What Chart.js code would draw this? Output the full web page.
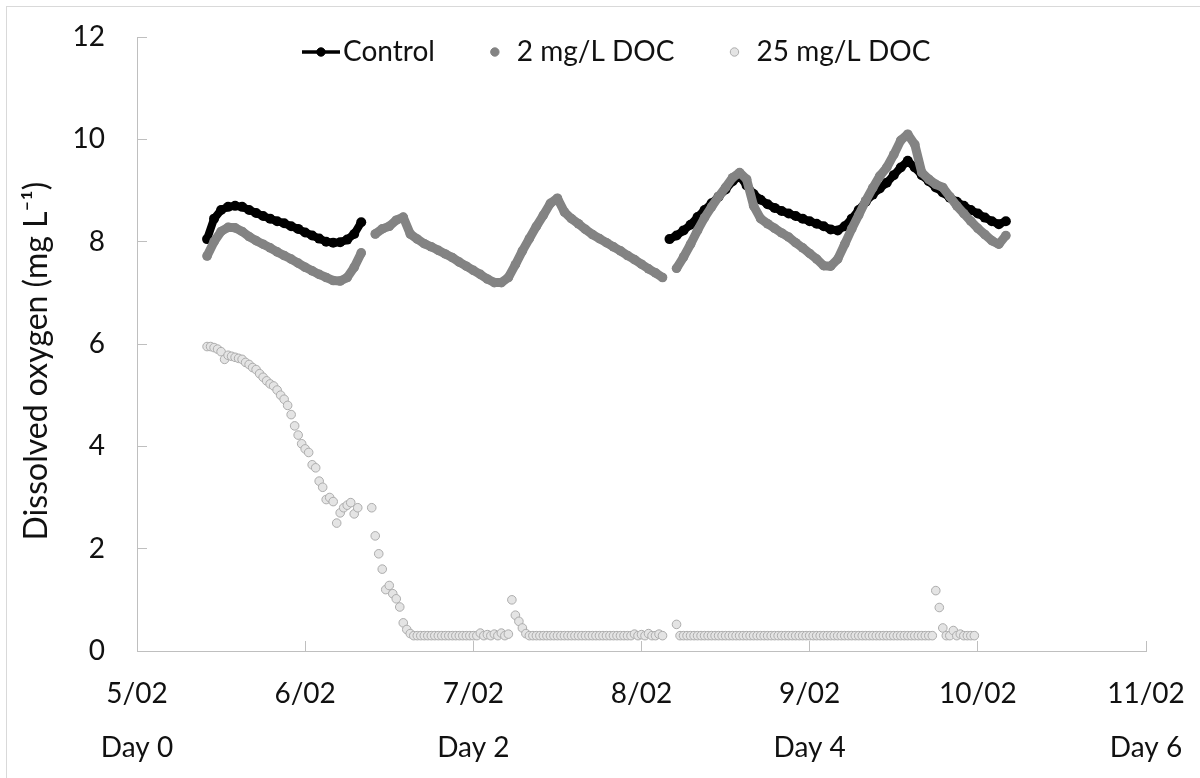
<!DOCTYPE html>
<html>
<head>
<meta charset="utf-8">
<script src="https://cdn.jsdelivr.net/npm/chart.js@4.4.1/dist/chart.umd.min.js"></script>
<style>
  html, body { margin: 0; padding: 0; background: #fff; }
</style>
</head>
<body>
<canvas id="doChart" width="1200" height="778"></canvas>
<script>
// x axis is hours since 5/02 00:00
const dateLabels = ['5/02', '6/02', '7/02', '8/02', '9/02', '10/02', '11/02'];
const dayLabels = ['Day 0', 'Day 2', 'Day 4', 'Day 6'];
const yTitle = 'Dissolved oxygen (mg L⁻¹)';

// Control, hourly logger readings (mg/L)
const controlStart = [10, 76];
const controlSeg1 = [8.05, 8.45, 8.62, 8.68, 8.70, 8.68, 8.62, 8.56, 8.50, 8.45, 8.40, 8.36,
  8.30, 8.25, 8.18, 8.12, 8.06, 8.00, 7.98, 7.99, 8.04, 8.15, 8.38];
const controlSeg2 = [8.05, 8.12, 8.22, 8.33, 8.48, 8.62, 8.75, 8.88, 9.02, 9.18, 9.28, 9.10,
  8.93, 8.82, 8.73, 8.66, 8.60, 8.55, 8.50, 8.45, 8.40, 8.35, 8.30, 8.24, 8.22, 8.30,
  8.45, 8.62, 8.78, 8.92, 9.04, 9.15, 9.30, 9.45, 9.58, 9.45, 9.30, 9.18, 9.06, 8.96,
  8.86, 8.78, 8.70, 8.62, 8.55, 8.47, 8.40, 8.34, 8.40];

// 2 mg/L DOC, hourly
const doc2Start = [10, 34, 77];
const doc2Seg1 = [7.72, 8.0, 8.2, 8.28, 8.27, 8.2, 8.1, 8.02, 7.95, 7.88, 7.8, 7.73, 7.66,
  7.58, 7.5, 7.43, 7.36, 7.3, 7.24, 7.23, 7.3, 7.5, 7.78];
const doc2Seg2 = [8.15, 8.25, 8.3, 8.42, 8.48, 8.15, 8.05, 7.96, 7.9, 7.83, 7.76, 7.69, 7.6,
  7.52, 7.44, 7.36, 7.27, 7.2, 7.2, 7.3, 7.55, 7.82, 8.06, 8.3, 8.52, 8.75, 8.85, 8.58,
  8.45, 8.35, 8.24, 8.14, 8.06, 7.98, 7.9, 7.82, 7.73, 7.65, 7.56, 7.47, 7.39, 7.3];
const doc2Seg3 = [7.48, 7.7, 7.95, 8.22, 8.47, 8.68, 8.88, 9.06, 9.25, 9.35, 9.22, 8.7, 8.45,
  8.35, 8.26, 8.17, 8.09, 7.98, 7.88, 7.77, 7.66, 7.53, 7.52, 7.66, 7.95, 8.25, 8.52, 8.8,
  9.05, 9.28, 9.45, 9.7, 9.98, 10.1, 9.9, 9.35, 9.22, 9.12, 9.06, 8.88, 8.7, 8.55, 8.4,
  8.26, 8.14, 8.02, 7.95, 8.12];

// 25 mg/L DOC, half-hourly
const doc25Start = [10, 33.5, 77];
const doc25Seg1 = [5.95, 5.95, 5.93, 5.9, 5.85, 5.7, 5.78, 5.76, 5.74, 5.72, 5.7, 5.64, 5.6,
  5.54, 5.5, 5.42, 5.35, 5.28, 5.22, 5.18, 5.1, 5.0, 4.92, 4.8, 4.62, 4.4, 4.22, 4.05,
  3.95, 3.88, 3.64, 3.58, 3.32, 3.2, 2.96, 3.0, 2.92, 2.5, 2.7, 2.8, 2.85, 2.9, 2.68, 2.8];
const doc25Seg2 = [2.8, 2.25, 1.9, 1.6, 1.2, 1.28, 1.12, 1.02, 0.86, 0.55, 0.42, 0.34, 0.3,
  0.3, 0.3, 0.3, 0.3, 0.3, 0.3, 0.3, 0.3, 0.3, 0.3, 0.3, 0.3, 0.3, 0.3, 0.3, 0.3, 0.3, 0.3,
  0.35, 0.3, 0.32, 0.3, 0.33, 0.3, 0.35, 0.3,
  0.33, 1.0, 0.7, 0.58, 0.45, 0.34,
  0.3, 0.3, 0.3, 0.3, 0.3, 0.3, 0.3, 0.3, 0.3, 0.3, 0.3, 0.3, 0.3, 0.3, 0.3,
  0.3, 0.3, 0.3, 0.3, 0.3, 0.3, 0.3, 0.3, 0.3, 0.3, 0.3, 0.3, 0.3, 0.3, 0.3,
  0.33, 0.3, 0.32, 0.3, 0.34, 0.3, 0.3, 0.33, 0.3];
const doc25Seg3 = [0.52,
  0.3, 0.3, 0.3, 0.3, 0.3, 0.3, 0.3, 0.3, 0.3, 0.3, 0.3, 0.3, 0.3, 0.3, 0.3, 0.3, 0.3, 0.3,
  0.3, 0.3, 0.3, 0.3, 0.3, 0.3, 0.3, 0.3, 0.3, 0.3, 0.3, 0.3, 0.3, 0.3, 0.3, 0.3, 0.3, 0.3,
  0.3, 0.3, 0.3, 0.3, 0.3, 0.3, 0.3, 0.3, 0.3, 0.3, 0.3, 0.3, 0.3, 0.3, 0.3, 0.3, 0.3, 0.3,
  0.3, 0.3, 0.3, 0.3, 0.3, 0.3, 0.3, 0.3, 0.3, 0.3, 0.3, 0.3, 0.3, 0.3, 0.3, 0.3, 0.3, 0.3,
  0.3,
  1.18, 0.85, 0.45, 0.3, 0.3, 0.4, 0.3, 0.33, 0.3, 0.3, 0.3, 0.3];

const FONT = 'Lato';
const TEXT = '#111';
const AXIS = '#bfbfbf';

// turn each logging run into {x, y} points, with a null between runs so the trace breaks
function buildSeries(starts, step, segs) {
  const out = [];
  segs.forEach((vals, s) => {
    vals.forEach((v, i) => out.push({ x: starts[s] + i * step, y: v }));
    if (s < segs.length - 1) out.push({ x: starts[s] + vals.length * step, y: null });
  });
  return out;
}

const background = {
  id: 'background',
  beforeDraw(chart) {
    const ctx = chart.ctx;
    ctx.save();
    ctx.fillStyle = '#fff';
    ctx.fillRect(0, 0, chart.width, chart.height);
    ctx.strokeStyle = '#d9d9d9';
    ctx.lineWidth = 1;
    ctx.strokeRect(6.5, 6.5, chart.width + 20, chart.height + 20);
    ctx.restore();
  }
};

// legend sits inside the plot along the top; axis title drawn alongside
const insideLegend = {
  id: 'insideLegend',
  afterDraw(chart) {
    const ctx = chart.ctx;
    const y = 52;
    let x = 302;
    ctx.save();
    ctx.font = '28px ' + FONT;
    ctx.textBaseline = 'middle';
    chart.data.datasets.forEach(ds => {
      const cx = x + 19;
      if (ds.legendLine) {
        ctx.strokeStyle = ds.borderColor;
        ctx.lineWidth = 3.5;
        ctx.beginPath();
        ctx.moveTo(x, y);
        ctx.lineTo(x + 38, y);
        ctx.stroke();
      }
      ctx.beginPath();
      ctx.arc(cx, y, 4.2, 0, Math.PI * 2);
      ctx.fillStyle = ds.pointBackgroundColor;
      ctx.fill();
      ctx.lineWidth = 1;
      ctx.strokeStyle = ds.pointBorderColor;
      ctx.stroke();
      ctx.fillStyle = TEXT;
      ctx.fillText(ds.label, x + 41, y);
      x += 41 + ctx.measureText(ds.label).width + 41;
    });

    ctx.translate(37, 361);
    ctx.rotate(-Math.PI / 2);
    ctx.textAlign = 'center';
    ctx.font = '32px ' + FONT;
    ctx.fillText(yTitle, 0, 0);
    ctx.restore();
  }
};

new Chart(document.getElementById('doChart'), {
  type: 'line',
  data: {
    datasets: [
      {
        label: 'Control',
        data: buildSeries(controlStart, 1, [controlSeg1, controlSeg2]),
        legendLine: true,
        borderColor: '#000',
        borderWidth: 8,
        pointRadius: 5,
        pointBackgroundColor: '#000',
        pointBorderColor: '#000',
        pointBorderWidth: 0,
        order: 3
      },
      {
        label: '2 mg/L DOC',
        data: buildSeries(doc2Start, 1, [doc2Seg1, doc2Seg2, doc2Seg3]),
        borderColor: '#838383',
        borderWidth: 9,
        pointRadius: 4.8,
        pointBackgroundColor: '#838383',
        pointBorderColor: '#838383',
        pointBorderWidth: 0,
        order: 2
      },
      {
        label: '25 mg/L DOC',
        data: buildSeries(doc25Start, 0.5, [doc25Seg1, doc25Seg2, doc25Seg3]),
        showLine: false,
        borderColor: '#adadad',
        pointRadius: 4.3,
        pointBackgroundColor: '#e4e4e4',
        pointBorderColor: '#adadad',
        pointBorderWidth: 1,
        order: 1
      }
    ]
  },
  options: {
    responsive: false,
    animation: false,
    devicePixelRatio: 1,
    layout: { padding: { left: 0, right: 54, top: 37, bottom: 0 } },
    elements: { line: { tension: 0, borderJoinStyle: 'round', borderCapStyle: 'round' } },
    plugins: { legend: { display: false }, tooltip: { enabled: false } },
    scales: {
      x: {
        type: 'linear',
        min: 0,
        max: 144,
        ticks: {
          stepSize: 24,
          padding: 36,
          color: TEXT,
          font: { family: FONT, size: 28 },
          callback: v => dateLabels[v / 24]
        },
        grid: { drawOnChartArea: false, tickLength: -10, color: AXIS },
        border: { color: AXIS, width: 1 },
        afterFit: s => { s.height = 70; s.paddingLeft = 0; s.paddingRight = 0; }
      },
      x2: {
        type: 'linear',
        position: 'bottom',
        min: 0,
        max: 144,
        ticks: {
          stepSize: 48,
          padding: 10,
          color: TEXT,
          font: { family: FONT, size: 28 },
          callback: v => dayLabels[v / 48]
        },
        grid: { display: false, drawTicks: false },
        border: { display: false },
        afterFit: s => { s.height = 57; s.paddingLeft = 0; s.paddingRight = 0; }
      },
      y: {
        min: 0,
        max: 12,
        ticks: { stepSize: 2, padding: 42, color: TEXT, font: { family: FONT, size: 28 } },
        grid: { drawOnChartArea: false, tickLength: -10, color: AXIS },
        border: { color: AXIS, width: 1 },
        afterFit: s => { s.width = 137; s.paddingTop = 0; s.paddingBottom = 0; }
      }
    }
  },
  plugins: [background, insideLegend]
});
</script>
</body>
</html>
